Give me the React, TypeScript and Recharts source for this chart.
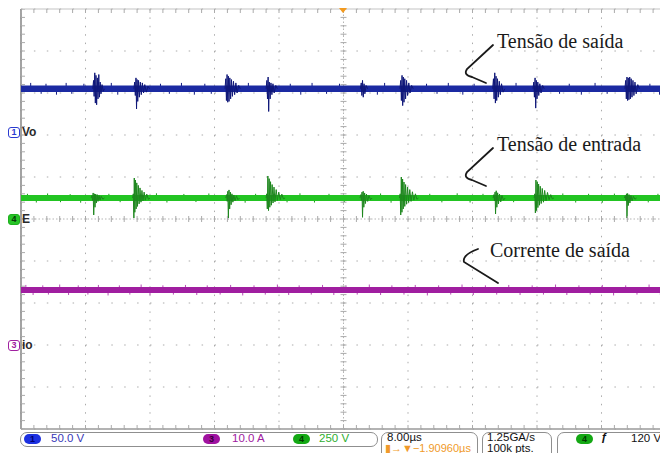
import React from 'react';
import { ComposedChart, Line, XAxis, YAxis, CartesianGrid, ReferenceLine, Scatter } from 'recharts';

// ---- time base: 8.00 µs/div, 10 divisions ----
const timeDomain: [number, number] = [0, 80];
const timeTicks = [0, 8, 16, 24, 32, 40, 48, 56, 64, 72, 80];
const divTicks = [0, 1, 2, 3, 4, 5, 6, 7, 8, 9, 10];

// ---- channel settings (volts/amps per div, ground marker position in divs from bottom) ----
const ch1Scale = 50; // Vo, 50.0 V/div
const ch1Ground = 7.1;
const ch4Scale = 250; // E, 250 V/div
const ch4Ground = 5;
const ch3Scale = 10; // io, 10.0 A/div
const ch3Ground = 2;

// ---- trace levels ----
const voLevel = 50; // V
const eLevel = 125; // V
const ioLevel = 13.1; // A

// ---- switching bursts, [time µs, value] ----
const voBursts: number[][][] = [
  [[8.9,50],[9.0,60],[9.07,41],[9.15,69],[9.22,33],[9.3,66],[9.38,31],[9.47,63],[9.55,38],[9.65,67],[9.73,40],[9.82,58],[9.92,44],[10.05,55],[10.2,47],[10.35,50]],
  [[14.0,50],[14.1,58],[14.18,42],[14.26,63],[14.33,26],[14.4,61],[14.48,35],[14.58,60],[14.68,40],[14.8,58],[14.92,43],[15.05,57],[15.2,45],[15.35,55],[15.55,46],[15.75,53],[15.95,50]],
  [[25.3,50],[25.4,62],[25.48,36],[25.56,67],[25.64,34],[25.72,65],[25.8,35],[25.9,63],[26.0,38],[26.1,61],[26.22,41],[26.35,59],[26.5,43],[26.65,57],[26.8,45],[27.0,54],[27.2,50]],
  [[30.4,50],[30.5,60],[30.57,38],[30.65,64],[30.72,23],[30.8,58],[30.9,38],[31.0,57],[31.12,43],[31.25,56],[31.4,45],[31.6,54],[31.8,50]],
  [[42.1,50],[42.2,57],[42.28,42],[42.36,60],[42.45,40],[42.55,56],[42.65,44],[42.8,54],[43.0,50]],
  [[47.0,50],[47.1,60],[47.18,36],[47.26,66],[47.34,30],[47.42,64],[47.5,34],[47.6,62],[47.7,38],[47.82,60],[47.95,42],[48.1,57],[48.25,45],[48.45,54],[48.65,50]],
  [[58.5,50],[58.6,62],[58.68,38],[58.76,69],[58.84,33],[58.92,65],[59.0,36],[59.1,62],[59.2,40],[59.32,59],[59.45,43],[59.6,56],[59.8,46],[60.0,50]],
  [[63.5,50],[63.6,58],[63.68,40],[63.76,63],[63.84,27],[63.92,60],[64.0,38],[64.1,58],[64.22,42],[64.35,56],[64.5,45],[64.7,54],[64.9,50]],
  [[74.9,50],[75.0,60],[75.08,38],[75.16,64],[75.24,36],[75.32,63],[75.4,37],[75.5,64],[75.58,38],[75.68,62],[75.78,40],[75.9,60],[76.02,42],[76.15,58],[76.3,44],[76.5,55],[76.7,50]],
];

const eBursts: number[][][] = [
  [[8.7,125],[8.8,140],[8.88,110],[8.95,155],[9.02,24],[9.1,150],[9.18,70],[9.26,148],[9.35,95],[9.45,145],[9.55,105],[9.68,140],[9.8,112],[9.95,135],[10.15,118],[10.35,125]],
  [[13.85,125],[13.93,150],[14.0,6],[14.05,244],[14.12,40],[14.2,232],[14.28,60],[14.36,215],[14.45,75],[14.55,200],[14.65,90],[14.76,185],[14.88,100],[15.0,170],[15.13,108],[15.27,160],[15.42,112],[15.6,148],[15.8,118],[16.0,125]],
  [[25.4,125],[25.5,145],[25.58,105],[25.65,165],[25.72,6],[25.8,173],[25.88,60],[25.97,160],[26.06,85],[26.16,150],[26.28,100],[26.4,143],[26.55,108],[26.72,138],[26.9,115],[27.1,125]],
  [[30.4,125],[30.48,150],[30.55,60],[30.62,256],[30.7,50],[30.78,240],[30.86,70],[30.95,222],[31.05,82],[31.15,205],[31.26,95],[31.38,190],[31.5,102],[31.65,175],[31.8,110],[31.97,160],[32.15,115],[32.35,148],[32.55,120],[32.75,125]],
  [[42.05,125],[42.15,145],[42.22,110],[42.3,160],[42.36,10],[42.44,165],[42.52,70],[42.62,155],[42.72,92],[42.85,148],[43.0,105],[43.15,140],[43.35,115],[43.55,125]],
  [[46.95,125],[47.03,150],[47.1,24],[47.17,250],[47.25,40],[47.33,238],[47.41,60],[47.5,220],[47.6,75],[47.7,205],[47.82,88],[47.95,190],[48.08,98],[48.22,175],[48.38,105],[48.55,162],[48.72,112],[48.92,150],[49.1,118],[49.3,125]],
  [[58.55,125],[58.65,145],[58.72,108],[58.8,160],[58.86,30],[58.94,168],[59.02,70],[59.12,156],[59.22,90],[59.35,148],[59.5,102],[59.65,140],[59.85,112],[60.05,125]],
  [[63.65,125],[63.73,150],[63.8,36],[63.87,232],[63.95,50],[64.03,222],[64.11,68],[64.2,208],[64.3,82],[64.4,195],[64.52,92],[64.65,182],[64.8,100],[64.95,170],[65.12,108],[65.3,158],[65.5,115],[65.7,145],[65.9,120],[66.1,125]],
  [[74.85,125],[74.95,140],[75.02,112],[75.1,150],[75.16,6],[75.24,152],[75.32,80],[75.42,145],[75.52,95],[75.65,140],[75.8,108],[75.95,135],[76.15,118],[76.35,125]],
];

// ---- small noise spikes on the trace edges, [time µs, peak value] ----
const voNoise: number[][] = [
  [1.2,57],[2.5,44],[3.1,56],[4.4,43],[5.6,57],[6.3,44],[7.8,56],[11.2,57],[12.0,43],[17.3,56],[18.4,44],[19.9,57],[21.5,43],[22.8,56],[23.6,44],[28.2,57],[33.4,56],[34.7,43],[36.1,57],[37.9,44],[39.5,56],[44.2,43],[45.1,57],[50.3,56],[51.6,44],[53.0,57],[54.8,43],[56.2,56],[61.4,57],[66.8,44],[68.0,56],[69.5,43],[71.2,57],[72.7,44],[78.0,56],[79.2,43],
];
const eNoise: number[][] = [
  [0.8,150],[1.9,98],[3.3,152],[4.9,100],[6.1,148],[7.4,97],[10.9,150],[12.3,100],[16.8,153],[18.1,98],[20.2,149],[21.7,101],[23.3,152],[27.8,97],[29.1,150],[33.0,99],[34.6,153],[36.4,98],[38.2,150],[40.1,101],[44.6,152],[45.9,97],[50.7,150],[52.2,99],[54.1,153],[55.7,98],[57.3,150],[61.1,100],[67.2,152],[68.8,98],[70.4,150],[72.1,97],[73.6,151],[77.8,99],[79.0,150],
];
const ioNoise: number[][] = [
  [0.6,14.3],[1.5,11.9],[2.7,14.2],[3.4,12.0],[4.8,14.4],[5.9,11.9],[7.1,14.2],[8.3,12.0],[9.6,14.3],[10.8,11.8],[12.2,14.2],[13.5,12.0],[14.9,14.4],[16.0,11.9],[17.6,14.2],[18.9,12.0],[20.4,14.3],[21.8,11.9],[23.1,14.2],[24.7,12.0],[26.0,14.3],[27.5,11.8],[28.9,14.2],[30.3,12.0],[31.8,14.4],[33.2,11.9],[34.5,14.2],[36.0,12.0],[37.4,14.3],[38.8,11.9],[40.3,14.2],[41.7,12.0],[43.2,14.4],[44.6,11.9],[46.0,14.2],[47.5,12.0],[48.9,14.3],[50.4,11.8],[51.8,14.2],[53.3,12.0],[54.7,14.4],[56.1,11.9],[57.6,14.2],[59.0,12.0],[60.5,14.3],[61.9,11.9],[63.4,14.2],[64.8,12.0],[66.3,14.4],[67.7,11.9],[69.2,14.2],[70.6,12.0],[72.1,14.3],[73.5,11.8],[75.0,14.2],[76.4,12.0],[77.9,14.4],[79.3,11.9],
];

// ---- status bar labels ----
const ch1Label = '50.0 V';
const ch3Label = '10.0 A';
const ch4Label = '250 V';
const timeLabel = '8.00µs';
const delayLabel = '−1.90960µs';
const rateLabel = '1.25GA/s';
const recordLabel = '100k pts.';
const trigLabel = '120 V';

// ---- helpers (data shaping only) ----
type Pt = { t: number; v: number | null };
const toSeries = (bursts: number[][][]): Pt[] => {
  const out: Pt[] = [];
  bursts.forEach((b) => {
    b.forEach(([t, v]) => out.push({ t, v }));
    out.push({ t: b[b.length - 1][0] + 0.01, v: null });
  });
  return out;
};
const toSpikes = (noise: number[][], base: number): Pt[] => {
  const out: Pt[] = [];
  noise.forEach(([t, v]) => {
    out.push({ t, v: base });
    out.push({ t, v });
    out.push({ t: t + 0.001, v: null });
  });
  return out;
};
const flat = (v: number): Pt[] => [{ t: timeDomain[0], v }, { t: timeDomain[1], v }];
const chDomain = (scale: number, ground: number): [number, number] => [-ground * scale, (10 - ground) * scale];

// graticule minor ticks (1/5 division)
const minorT = Array.from({ length: 51 }, (_, i) => Math.round(i * 160) / 100);
const minorY = Array.from({ length: 51 }, (_, i) => Math.round(i * 20) / 100);

const GRID = '#ababab';
const mkTick = (dx1: number, dy1: number, dx2: number, dy2: number) => (p: any) => (
  <line x1={p.cx + dx1} y1={p.cy + dy1} x2={p.cx + dx2} y2={p.cy + dy2} stroke={GRID} strokeWidth={1} />
);

const SANS = '"Liberation Sans", Arial, sans-serif';
const SERIF = '"Liberation Serif", "Times New Roman", serif';

const Txt = ({ x, y, color = '#111', size = 11.5, children, weight = 400 }: any) => (
  <div style={{ position: 'absolute', left: x, top: y, fontFamily: SANS, fontSize: size, lineHeight: '11px', color, whiteSpace: 'nowrap', fontWeight: weight }}>{children}</div>
);
const Box = ({ x, y, w, h }: any) => (
  <div style={{ position: 'absolute', left: x, top: y, width: w, height: h, boxSizing: 'border-box', border: '1px solid #8f8f8f', borderRadius: 7 }} />
);
const Pill = ({ x, y, fill, color, label }: any) => (
  <div style={{ position: 'absolute', left: x, top: y, width: 17, height: 10, borderRadius: 5, background: fill, color, fontFamily: SANS, fontSize: 9, lineHeight: '10px', textAlign: 'center', fontWeight: 700 }}>{label}</div>
);
const Marker = ({ y, stroke, fill, color, num, name }: any) => (
  <>
    <div style={{ position: 'absolute', left: 8, top: y, width: 12, height: 11, boxSizing: 'border-box', border: `1px solid ${stroke}`, borderRadius: 3, background: fill, color, fontFamily: SANS, fontSize: 9, lineHeight: '9px', textAlign: 'center', fontWeight: 700 }}>{num}</div>
    <div style={{ position: 'absolute', left: 22, top: y - 1, fontFamily: SANS, fontSize: 12, lineHeight: '12px', color: '#2a2a2a', fontWeight: 700 }}>{name}</div>
  </>
);

const thin = { dot: false, activeDot: false, isAnimationActive: false } as const;

export default function App() {
  return (
    <div style={{ position: 'fixed', left: 0, top: 0, width: 660, height: 453, overflow: 'hidden', background: '#fff' }}>
      <div style={{ position: 'absolute', left: 0, top: 0 }}>
        <ComposedChart width={690} height={430} margin={{ top: 9, right: 24, bottom: 1, left: 21 }}>
          <XAxis type="number" dataKey="t" domain={timeDomain} ticks={timeTicks} allowDataOverflow hide />
          <YAxis type="number" dataKey="v" domain={[0, 10]} ticks={divTicks} allowDataOverflow hide />
          <YAxis yAxisId="ch1" type="number" dataKey="v" domain={chDomain(ch1Scale, ch1Ground)} allowDataOverflow hide />
          <YAxis yAxisId="ch4" type="number" dataKey="v" domain={chDomain(ch4Scale, ch4Ground)} allowDataOverflow hide />
          <YAxis yAxisId="ch3" type="number" dataKey="v" domain={chDomain(ch3Scale, ch3Ground)} allowDataOverflow hide />

          <CartesianGrid vertical={false} stroke={GRID} strokeDasharray="1.5 11.4" />
          <CartesianGrid horizontal={false} stroke={GRID} strokeDasharray="1.5 6.9" />

          <ReferenceLine y={5} stroke="#b5b5b5" strokeDasharray="1.5 2" />
          <ReferenceLine x={40} stroke="#b5b5b5" strokeDasharray="1.5 2" />
          <ReferenceLine y={10} stroke="#c4c4c4" strokeWidth={1.2} />
          <ReferenceLine y={0} stroke="#9a9a9a" strokeWidth={1.4} />
          <ReferenceLine x={0} stroke="#8c8c8c" strokeWidth={1.6} />

          <Scatter data={minorT.map((t) => ({ t, v: 5 }))} dataKey="v" shape={mkTick(0, -3, 0, 3)} isAnimationActive={false} />
          <Scatter data={minorT.map((t) => ({ t, v: 10 }))} dataKey="v" shape={mkTick(0, 0, 0, 4)} isAnimationActive={false} />
          <Scatter data={minorT.map((t) => ({ t, v: 0 }))} dataKey="v" shape={mkTick(0, -4, 0, 0)} isAnimationActive={false} />
          <Scatter data={minorY.map((v) => ({ t: 40, v }))} dataKey="v" shape={mkTick(-3, 0, 3, 0)} isAnimationActive={false} />
          <Scatter data={minorY.map((v) => ({ t: 0, v }))} dataKey="v" shape={mkTick(0, 0, 4, 0)} isAnimationActive={false} />

          <Line yAxisId="ch3" data={toSpikes(ioNoise, ioLevel)} dataKey="v" stroke="#b64cb6" strokeWidth={1} {...thin} />
          <Line yAxisId="ch3" data={flat(ioLevel)} dataKey="v" stroke="#a01ea0" strokeWidth={6} {...thin} />
          <Line yAxisId="ch4" data={toSpikes(eNoise, eLevel)} dataKey="v" stroke="#1f9a1f" strokeWidth={1} {...thin} />
          <Line yAxisId="ch4" data={flat(eLevel)} dataKey="v" stroke="#22c422" strokeWidth={6} {...thin} />
          <Line yAxisId="ch4" data={toSeries(eBursts)} dataKey="v" stroke="#1c861c" strokeWidth={1} {...thin} />
          <Line yAxisId="ch1" data={toSpikes(voNoise, voLevel)} dataKey="v" stroke="#101a80" strokeWidth={1} {...thin} />
          <Line yAxisId="ch1" data={flat(voLevel)} dataKey="v" stroke="#1b2aa2" strokeWidth={6.5} {...thin} />
          <Line yAxisId="ch1" data={toSeries(voBursts)} dataKey="v" stroke="#0e1678" strokeWidth={1} {...thin} />
        </ComposedChart>
      </div>

      {/* channel ground markers */}
      <Marker y={127} stroke="#2b3bd0" fill="#fff" color="#2b3bd0" num="1" name="Vo" />
      <Marker y={214} stroke="#1eb01e" fill="#27c427" color="#063806" num="4" name="E" />
      <Marker y={340} stroke="#a020a0" fill="#fff" color="#a020a0" num="3" name="io" />

      {/* status bar */}
      <Box x={20} y={432} w={358} h={15} />
      <Pill x={24} y={434} fill="#1c30e0" color="#000070" label="1" />
      <Txt x={51} y={433} color="#3838b8">{ch1Label}</Txt>
      <Pill x={203} y={434} fill="#a012a0" color="#3a003a" label="3" />
      <Txt x={232} y={433} color="#a020a0">{ch3Label}</Txt>
      <Pill x={293} y={434} fill="#14a814" color="#003a00" label="4" />
      <Txt x={319} y={433} color="#2fae2f">{ch4Label}</Txt>

      <Box x={381} y={432} w={97} h={30} />
      <Txt x={387} y={432}>{timeLabel}</Txt>
      <Txt x={385} y={443} color="#f09a2a" size={11}>▮→▼{delayLabel}</Txt>

      <Box x={482} y={432} w={70} h={30} />
      <Txt x={487} y={432}>{rateLabel}</Txt>
      <Txt x={487} y={443}>{recordLabel}</Txt>

      <Box x={557} y={432} w={120} h={30} />
      <Pill x={576} y={434} fill="#14a814" color="#003a00" label="4" />
      <Txt x={601} y={432} weight={700}>ƒ</Txt>
      <Txt x={631} y={433}>{trigLabel}</Txt>

      {/* annotations */}
      <svg width={660} height={453} style={{ position: 'absolute', left: 0, top: 0, pointerEvents: 'none' }}>
        <polygon points="339,8 347,8 343,13" fill="#f39a1e" />
        <g fill="none" stroke="#1a1a1a" strokeWidth={1.8} strokeLinecap="round">
          <path d="M493 45 L467 69 Q463 75 472 77 L486 83" />
          <path d="M493 148 L467 172 Q463 178 472 180 L486 186" />
          <path d="M478 249 Q462 255 464 262 L498 283" />
        </g>
        <g fontFamily={SERIF} fontSize={20} fill="#1a1a1a">
          <text x={497} y={48}>Tensão de saída</text>
          <text x={497} y={151}>Tensão de entrada</text>
          <text x={490} y={257}>Corrente de saída</text>
        </g>
      </svg>
    </div>
  );
}
